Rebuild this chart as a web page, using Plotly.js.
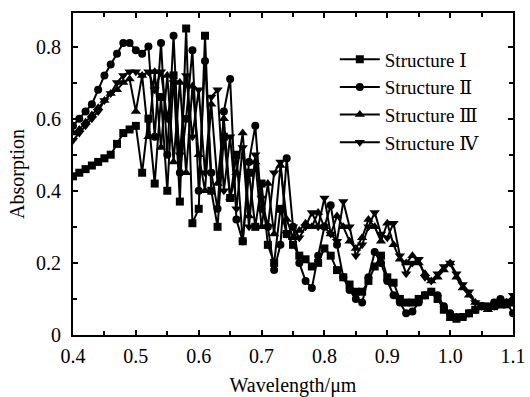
<!DOCTYPE html>
<html>
<head>
<meta charset="utf-8">
<script src="https://cdn.plot.ly/plotly-3.0.1.min.js"></script>
<style>html,body{margin:0;padding:0;background:#fff}#chart{width:530px;height:397px}</style>
</head>
<body>
<div id="chart"></div>
<script>
var wavelength = [0.40,0.41,0.42,0.43,0.44,0.45,0.46,0.47,0.48,0.49,
  0.50,0.51,0.52,0.53,0.54,0.55,0.56,0.57,0.58,0.59,
  0.60,0.61,0.62,0.63,0.64,0.65,0.66,0.67,0.68,0.69,
  0.70,0.71,0.72,0.73,0.74,0.75,0.76,0.77,0.78,0.79,
  0.80,0.81,0.82,0.83,0.84,0.85,0.86,0.87,0.88,0.89,
  0.90,0.91,0.92,0.93,0.94,0.95,0.96,0.97,0.98,0.99,
  1.00,1.01,1.02,1.03,1.04,1.05,1.06,1.07,1.08,1.09,1.10];

var structureI = [0.44,0.45,0.46,0.47,0.48,0.49,0.50,0.53,0.56,0.57,
  0.58,0.45,0.60,0.42,0.66,0.40,0.72,0.37,0.85,0.31,
  0.35,0.83,0.40,0.30,0.55,0.38,0.50,0.26,0.45,0.30,
  0.42,0.25,0.20,0.35,0.28,0.25,0.22,0.21,0.19,0.20,
  0.24,0.22,0.18,0.16,0.14,0.12,0.12,0.15,0.19,0.22,
  0.16,0.145,0.10,0.09,0.09,0.10,0.11,0.12,0.10,0.07,
  0.05,0.045,0.05,0.06,0.07,0.08,0.075,0.08,0.09,0.085,0.09];

var structureII = [0.58,0.60,0.62,0.64,0.68,0.72,0.75,0.78,0.81,0.81,
  0.79,0.78,0.80,0.55,0.81,0.50,0.83,0.45,0.60,0.79,
  0.40,0.76,0.45,0.35,0.62,0.71,0.32,0.26,0.48,0.58,
  0.35,0.30,0.18,0.25,0.49,0.30,0.20,0.15,0.13,0.22,
  0.30,0.36,0.25,0.16,0.125,0.10,0.09,0.16,0.23,0.20,
  0.15,0.11,0.09,0.06,0.065,0.09,0.11,0.12,0.11,0.08,
  0.06,0.05,0.05,0.06,0.07,0.08,0.08,0.09,0.10,0.09,0.06];

var structureIII = [0.56,0.57,0.59,0.61,0.63,0.65,0.67,0.68,0.70,0.71,
  0.62,0.72,0.55,0.73,0.52,0.72,0.48,0.70,0.45,0.69,
  0.50,0.40,0.64,0.42,0.60,0.38,0.45,0.56,0.33,0.48,
  0.30,0.42,0.28,0.47,0.32,0.27,0.29,0.31,0.30,0.34,
  0.30,0.28,0.33,0.30,0.26,0.24,0.27,0.32,0.30,0.26,
  0.31,0.25,0.21,0.20,0.22,0.20,0.17,0.15,0.16,0.18,
  0.20,0.16,0.13,0.11,0.09,0.08,0.07,0.08,0.08,0.09,0.10];

var structureIV = [0.54,0.56,0.58,0.60,0.62,0.65,0.67,0.70,0.72,0.73,
  0.73,0.72,0.73,0.68,0.73,0.60,0.70,0.50,0.72,0.55,
  0.68,0.45,0.66,0.68,0.40,0.55,0.35,0.52,0.30,0.50,
  0.38,0.30,0.45,0.48,0.28,0.30,0.27,0.30,0.34,0.30,
  0.38,0.28,0.26,0.37,0.30,0.22,0.25,0.30,0.34,0.28,
  0.27,0.31,0.22,0.17,0.20,0.21,0.16,0.15,0.17,0.19,
  0.20,0.17,0.14,0.12,0.09,0.08,0.08,0.08,0.09,0.09,0.11];

var seriesNames = ["Structure \u2160", "Structure \u2161", "Structure \u2162", "Structure \u2163"];
var seriesValues = [structureI, structureII, structureIII, structureIV];
var markerSymbols = ["square", "circle", "triangle-up", "triangle-down"];
var markerSizes = [8, 8, 9, 9];

var yTickVals = [0, 0.2, 0.4, 0.6, 0.8];
var yTickText = ["0", "0.2", "0.4", "0.6", "0.8"];
var xTickVals = [0.4, 0.5, 0.6, 0.7, 0.8, 0.9, 1.0, 1.1];
var xTickText = ["0.4", "0.5", "0.6", "0.7", "0.8", "0.9", "1.0", "1.1"];

var traces = seriesValues.map(function (vals, k) {
  return {
    x: wavelength, y: vals, name: seriesNames[k],
    type: "scatter", mode: "lines+markers",
    line: {color: "#000", width: 2},
    marker: {symbol: markerSymbols[k], size: markerSizes[k], color: "#000"}
  };
});

var fontFam = "'Liberation Serif', 'Times New Roman', 'DejaVu Serif', serif";
var layout = {
  width: 530, height: 397,
  margin: {l: 73, r: 17, t: 13, b: 62},
  paper_bgcolor: "#fff", plot_bgcolor: "#fff",
  font: {family: fontFam, color: "#000", size: 20},
  showlegend: true,
  legend: {x: 0.595, y: 0.915, xanchor: "left", yanchor: "top",
    bgcolor: "rgba(0,0,0,0)", font: {size: 19, family: fontFam}, tracegroupgap: 0,
    itemwidth: 40},
  xaxis: {
    range: [0.4, 1.1], showline: true, mirror: "ticks", linecolor: "#000", linewidth: 2,
    ticks: "inside", ticklen: 5, tickwidth: 2, tickcolor: "#000",
    tickvals: xTickVals, ticktext: xTickText, showgrid: false, zeroline: false,
    tickfont: {size: 20, family: fontFam}, ticklabelstandoff: 2,
    minor: {dtick: 0.05, ticks: "inside", ticklen: 4, tickwidth: 2, tickcolor: "#000", showgrid: false},
    title: {text: "Wavelength/\u03bcm", font: {size: 20, family: fontFam}, standoff: 14}
  },
  yaxis: {
    range: [0, 0.893], showline: true, mirror: "ticks", linecolor: "#000", linewidth: 2,
    ticks: "inside", ticklen: 5, tickwidth: 2, tickcolor: "#000",
    tickvals: yTickVals, ticktext: yTickText, showgrid: false, zeroline: false,
    tickfont: {size: 20, family: fontFam}, ticklabelstandoff: 6,
    minor: {dtick: 0.1, ticks: "inside", ticklen: 4, tickwidth: 2, tickcolor: "#000", showgrid: false},
    title: {text: "Absorption", font: {size: 20, family: fontFam}, standoff: 6}
  }
};

Plotly.newPlot("chart", traces, layout, {displayModeBar: false, staticPlot: true});
</script>
</body>
</html>
